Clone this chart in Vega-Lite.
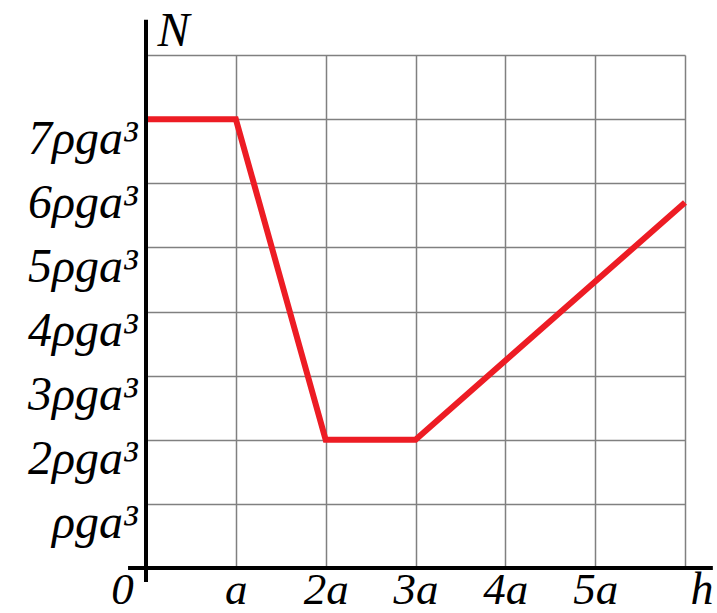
{
  "$schema": "https://vega.github.io/schema/vega-lite/v6.json",
  "width": 539,
  "height": 513,
  "autosize": "none",
  "padding": {"left": 146, "top": 55, "right": 32, "bottom": 45},
  "background": "white",
  "config": {
    "view": {"stroke": null},
    "axis": {
      "domain": false,
      "ticks": false,
      "grid": true,
      "gridColor": "#808080",
      "gridWidth": 1.5,
      "gridOpacity": 1,
      "labelFont": "Liberation Serif",
      "labelFontStyle": "italic",
      "labelFontSize": 45,
      "labelColor": "black",
      "labelOverlap": false,
      "labelFlush": false,
      "labelBound": false,
      "titleFont": "Liberation Serif",
      "titleFontStyle": "italic",
      "titleFontWeight": "normal",
      "titleFontSize": 48,
      "titleColor": "black"
    }
  },
  "datasets": {
    "curve": [
      {"h": 0, "N": 7},
      {"h": 1, "N": 7},
      {"h": 2, "N": 2},
      {"h": 3, "N": 2},
      {"h": 6, "N": 5.7}
    ],
    "xaxis": [{"x0": -0.2, "x1": 6.31, "y": 0}],
    "yaxis": [{"x": 0, "y0": -0.22, "y1": 8.55}]
  },
  "layer": [
    {
      "data": {"name": "curve"},
      "mark": {"type": "line", "color": "#ed1c24", "strokeWidth": 6},
      "encoding": {
        "x": {
          "field": "h",
          "type": "quantitative",
          "scale": {"domain": [0, 6], "nice": false, "zero": false},
          "axis": {
            "values": [0, 1, 2, 3, 4, 5, 6],
            "labelExpr": "datum.value == 0 ? '0' : datum.value == 1 ? 'a' : datum.value == 6 ? '' : datum.value + 'a'",
            "labelAlign": "center",
            "labelBaseline": "alphabetic",
            "labelPadding": 35,
            "labelOffset": {"expr": "datum.value == 0 ? -24 : 0"},
            "title": "h",
            "titleX": 544,
            "titleY": 35,
            "titleFontSize": 46,
            "titleAlign": "left",
            "titleBaseline": "alphabetic"
          }
        },
        "y": {
          "field": "N",
          "type": "quantitative",
          "scale": {"domain": [0, 8], "nice": false, "zero": false},
          "axis": {
            "values": [1, 2, 3, 4, 5, 6, 7, 8],
            "labelExpr": "datum.value == 8 ? '' : datum.value == 1 ? 'ρga³' : datum.value + 'ρga³'",
            "labelAlign": "right",
            "labelBaseline": "alphabetic",
            "labelPadding": 9,
            "labelOffset": 34,
            "labelFontSize": 48,
            "title": "N",
            "titleAngle": 0,
            "titleX": 11,
            "titleY": -10,
            "titleAlign": "left",
            "titleBaseline": "alphabetic"
          }
        }
      }
    },
    {
      "data": {"name": "xaxis"},
      "mark": {"type": "rule", "color": "black", "strokeWidth": 4},
      "encoding": {
        "x": {"field": "x0", "type": "quantitative", "title": "h"},
        "x2": {"field": "x1"},
        "y": {"field": "y", "type": "quantitative", "title": "N"}
      }
    },
    {
      "data": {"name": "yaxis"},
      "mark": {"type": "rule", "color": "black", "strokeWidth": 4},
      "encoding": {
        "x": {"field": "x", "type": "quantitative", "title": "h"},
        "y": {"field": "y0", "type": "quantitative", "title": "N"},
        "y2": {"field": "y1"}
      }
    }
  ]
}
